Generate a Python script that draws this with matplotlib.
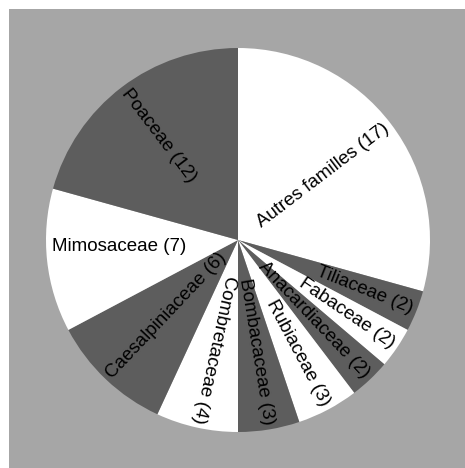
import numpy as np
import matplotlib
matplotlib.use("Agg")
from matplotlib import pyplot as plt
from matplotlib.patches import Rectangle

# family names and counts, clockwise from 12 o'clock
families = ["Autres familles", "Tiliaceae", "Fabaceae", "Anacardiaceae", "Rubiaceae",
            "Bombacaceae", "Combretaceae", "Caesalpiniaceae", "Mimosaceae", "Poaceae"]
counts = [17, 2, 2, 2, 3, 3, 4, 6, 7, 12]

WHITE = "#ffffff"
DARK = "#5d5d5d"
BG = "#a6a6a6"

W, H = 465, 468
fig = plt.figure(figsize=(W / 100, H / 100), dpi=100, facecolor="white")
fig.patches.append(Rectangle((9 / W, 0), 1, (H - 9) / H, transform=fig.transFigure,
                             facecolor=BG, edgecolor="none", zorder=-10))

# axes over the gray area, 1 data unit = pie radius (192 px)
ax_l, ax_b, ax_w, ax_h = 9, 0, W - 9, H - 9
ax = fig.add_axes([ax_l / W, ax_b / H, ax_w / W, ax_h / H])
ax.patch.set_alpha(0)

R = 192.0
cx, cy = 238 - ax_l, (H - 240) - ax_b

colors = [WHITE if i % 2 == 0 else DARK for i in range(len(counts))]
wedges, _ = ax.pie(counts, startangle=90, counterclock=False, colors=colors,
                   wedgeprops=dict(linewidth=0, antialiased=True))

ax.set_aspect("auto")
ax.set_xlim(-cx / R, (ax_w - cx) / R)
ax.set_ylim(-cy / R, (ax_h - cy) / R)
ax.axis("off")

total = float(sum(counts))
start = 90.0
for name, c in zip(families, counts):
    span = 360.0 * c / total
    mid = start - span / 2
    start -= span
    th = np.deg2rad(mid)
    x, y = 0.975 * np.cos(th), 0.975 * np.sin(th)
    if np.cos(th) < -0.4:
        rot = mid + 180
        ha = "left"
    else:
        rot = mid
        ha = "right"
    rot = (rot + 180) % 360 - 180
    if abs(rot) < 10:
        # nearly horizontal labels are drawn flat, closer to the centre line
        rot = 0
        y = 0.3 * y
    ax.text(x, y, "%s (%d)" % (name, c), rotation=rot, rotation_mode="anchor",
            ha=ha, va="center", fontsize=13.5, family="Liberation Sans", color="black")

fig.savefig("out.png", dpi=100, facecolor=fig.get_facecolor())
